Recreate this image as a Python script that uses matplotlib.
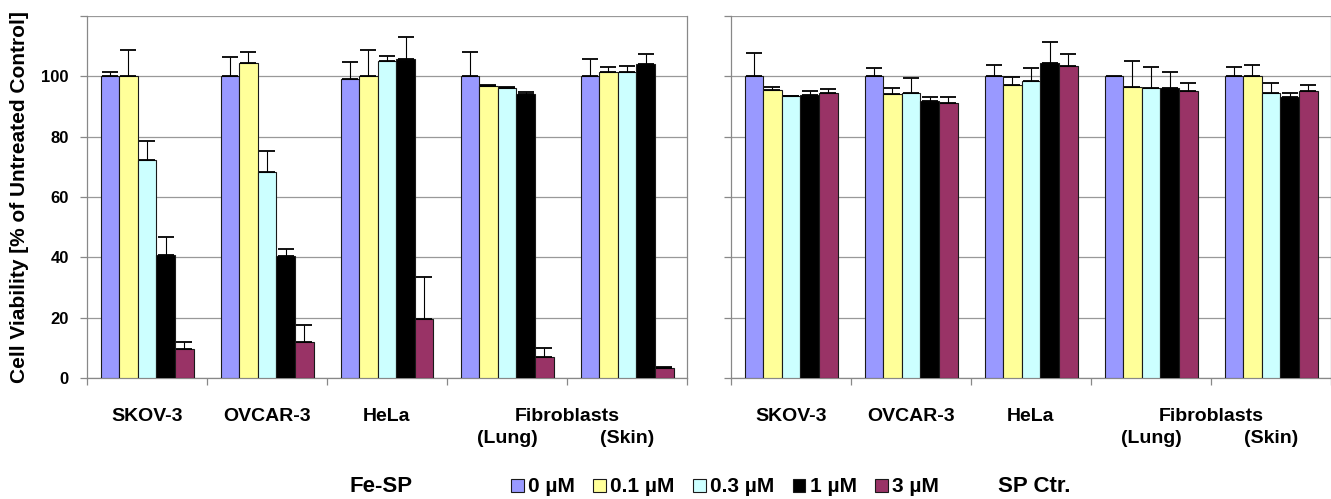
import matplotlib.pyplot as plt
import numpy as np
import matplotlib as mpl

mpl.rcParams['font.family'] = ['Liberation Sans', 'DejaVu Sans']
mpl.rcParams['font.weight'] = 'bold'

# cell lines and concentrations
cell_lines = ["SKOV-3", "OVCAR-3", "HeLa", "Lung", "Skin"]
conc_labels = ["0 µM", "0.1 µM", "0.3 µM", "1 µM", "3 µM"]
bar_colors = ['#9999FF', '#FFFF99', '#CCFFFF', '#000000', '#993366']

# Fe-SP, rows = cell lines, cols = concentrations
fesp_mean = [[100, 100, 72.3, 40.9, 9.6],
             [100, 104.3, 68.4, 40.4, 12.0],
             [99.2, 100, 105.1, 105.6, 19.7],
             [100, 96.9, 96.1, 94.2, 7.1],
             [100, 101.6, 101.6, 104.1, 3.2]]
fesp_err = [[1.3, 8.7, 6.3, 5.8, 2.4],
            [6.3, 3.7, 6.7, 2.4, 5.5],
            [5.6, 8.7, 1.7, 7.6, 13.8],
            [8.0, 0.3, 0.2, 0.7, 2.8],
            [5.6, 1.6, 1.9, 3.2, 0.3]]

# SP Ctr.
spctr_mean = [[100, 95.6, 93.4, 93.7, 94.5],
              [100, 94.0, 94.5, 91.7, 91.3],
              [100, 97.2, 98.3, 104.3, 103.5],
              [100, 96.5, 96.0, 96.0, 95.2],
              [100, 100, 94.4, 93.1, 95.0]]
spctr_err = [[7.9, 0.8, 0.2, 1.3, 1.2],
             [2.7, 2.0, 5.0, 1.6, 2.0],
             [3.6, 2.5, 4.4, 7.1, 4.0],
             [np.nan, 8.6, 7.2, 5.5, 2.6],
             [3.2, 3.6, 3.4, 1.5, 2.0]]

W, H = 1331, 499
fig = plt.figure(figsize=(W / 100, H / 100), dpi=100)

ax_l = fig.add_axes([87 / W, 1 - 378 / H, 600 / W, 362 / H])
ax_r = fig.add_axes([731 / W, 1 - 378 / H, 600 / W, 362 / H])

bar_w = 0.155
x = np.arange(len(cell_lines))


def draw_panel(ax, means, errs):
    means = np.array(means, dtype=float)
    errs = np.array(errs, dtype=float)
    handles = []
    for j in range(len(conc_labels)):
        offs = (j - 2) * bar_w
        yerr = [np.zeros(len(x)), errs[:, j]]
        b = ax.bar(x + offs, means[:, j], bar_w, color=bar_colors[j],
                   edgecolor='#1a1a1a', linewidth=0.8, yerr=yerr,
                   error_kw=dict(ecolor='black', elinewidth=0.8,
                                 capsize=5.5, capthick=1.3), zorder=3)
        handles.append(b)

    ax.set_xlim(-0.5, 4.5)
    ax.set_ylim(0, 120)
    ax.set_yticks(np.arange(0, 121, 20))
    ax.set_xticks(np.arange(-0.5, 4.6, 1))
    ax.set_xticklabels([])
    ax.yaxis.grid(True, color='#999999', linewidth=0.9, zorder=0)
    ax.xaxis.grid(False)
    ax.set_axisbelow(True)
    for s in ['left', 'bottom', 'right']:
        ax.spines[s].set_color('#888888')
        ax.spines[s].set_linewidth(0.9)
    ax.spines['top'].set_visible(False)
    ax.tick_params(axis='both', direction='out', length=5, width=0.9,
                   color='#888888', labelsize=12, pad=8)

    # category labels under the bars
    tr = ax.get_xaxis_transform()
    for i in range(3):
        ax.text(x[i], -0.105, cell_lines[i], transform=tr, ha='center',
                va='center', fontsize=14, fontweight='bold')
    ax.text(3.5, -0.105, "Fibroblasts", transform=tr, ha='center',
            va='center', fontsize=14, fontweight='bold')
    ax.text(x[3], -0.168, "(Lung)", transform=tr, ha='center',
            va='center', fontsize=14, fontweight='bold')
    ax.text(x[4], -0.168, "(Skin)", transform=tr, ha='center',
            va='center', fontsize=14, fontweight='bold')
    return handles


handles = draw_panel(ax_l, fesp_mean, fesp_err)
draw_panel(ax_r, spctr_mean, spctr_err)

ax_l.set_yticklabels(['0', '20', '40', '60', '80', '100', ''])
ax_r.set_yticklabels([])

ax_l.set_ylabel("Cell Viability [% of Untreated Control]", fontsize=15,
                fontweight='bold', labelpad=9)

# legend row
fig.legend(handles, conc_labels, ncol=5, loc='center',
           bbox_to_anchor=(725 / W, 1 - 487 / H), frameon=False,
           prop={'size': 15, 'weight': 'bold'}, handlelength=0.6,
           handleheight=0.6, handletextpad=0.2, columnspacing=0.9,
           borderpad=0)
fig.text(381 / W, 1 - 487 / H, "Fe-SP", ha='center', va='center',
         fontsize=16, fontweight='bold')
fig.text(1034 / W, 1 - 487 / H, "SP Ctr.", ha='center', va='center',
         fontsize=16, fontweight='bold')

plt.savefig('out.png', dpi=100)
